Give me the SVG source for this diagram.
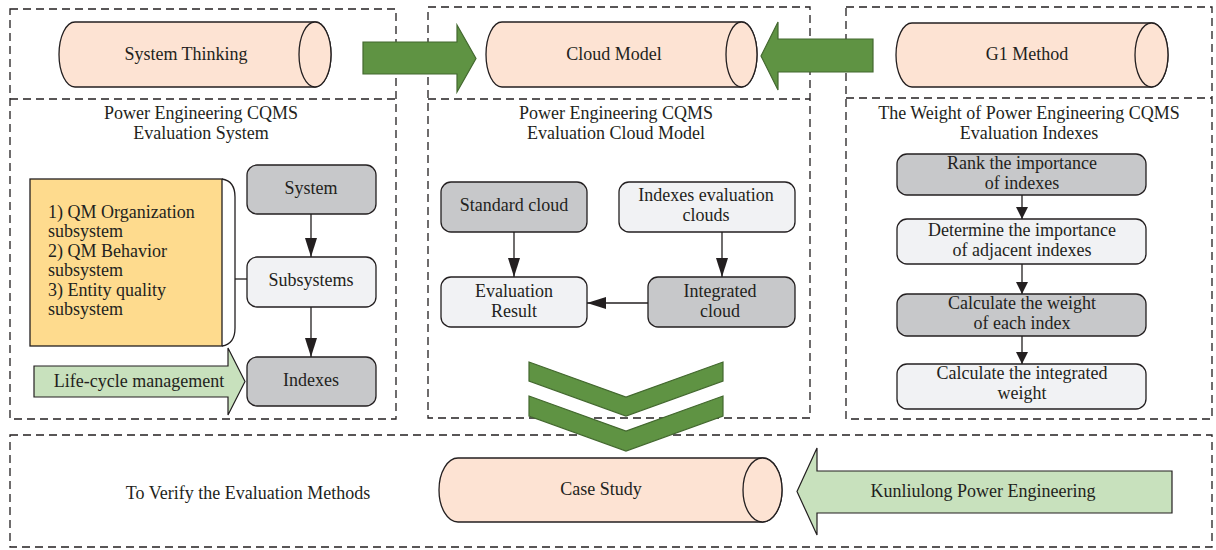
<svg xmlns="http://www.w3.org/2000/svg" width="1216" height="550" viewBox="0 0 1216 550">
<style>
.dash{fill:none;stroke:#231f20;stroke-width:1.3;stroke-dasharray:8 5}
.cyl{fill:#fde3d3;stroke:#231f20;stroke-width:1.3}
.t{font-family:"Liberation Serif",serif;font-size:18px;fill:#231f20;text-anchor:middle}
.tl{font-family:"Liberation Serif",serif;font-size:18px;fill:#231f20}
.gray{fill:#c7c8ca;stroke:#231f20;stroke-width:1.3}
.light{fill:#f1f2f4;stroke:#231f20;stroke-width:1.3}
.garrow{fill:#5f9343;stroke:#43682f;stroke-width:1.2}
.larrow{fill:#c8e1bd;stroke:#231f20;stroke-width:1.2}
.con{fill:none;stroke:#231f20;stroke-width:1.3}
</style>
<defs>
<marker id="big" viewBox="0 0 19 12" refX="19" refY="6" markerWidth="19" markerHeight="12" markerUnits="userSpaceOnUse" orient="auto"><path d="M0,0 L19,6 L0,12 Z" fill="#231f20"/></marker>
<marker id="small" viewBox="0 0 12 12" refX="12" refY="6" markerWidth="12" markerHeight="12" markerUnits="userSpaceOnUse" orient="auto"><path d="M0,0 L12,6 L0,12 Z" fill="#231f20"/></marker>
</defs>
<rect width="1216" height="550" fill="#ffffff"/>

<g id="frames">
<rect class="dash" x="10" y="9" width="386" height="410"/>
<line class="dash" x1="10" y1="99" x2="396" y2="99"/>
<rect class="dash" x="428" y="7" width="382" height="411"/>
<line class="dash" x1="428" y1="99" x2="810" y2="99"/>
<rect class="dash" x="846" y="7" width="366" height="412"/>
<line class="dash" x1="846" y1="98" x2="1212" y2="98"/>
<rect class="dash" x="10" y="435" width="1202" height="112"/>
</g>

<g id="titles">
<text class="t" x="201" y="119">Power Engineering CQMS</text>
<text class="t" x="201" y="139">Evaluation System</text>
<text class="t" x="616" y="119">Power Engineering CQMS</text>
<text class="t" x="616" y="139">Evaluation Cloud Model</text>
<text class="t" x="1029" y="119">The Weight of Power Engineering CQMS</text>
<text class="t" x="1029" y="139">Evaluation Indexes</text>
<text class="t" x="248" y="499">To Verify the Evaluation Methods</text>
</g>

<g id="system-thinking">
<path class="cyl" d="M75,22 L315,22 A16,32.5 0 0 1 315,87 L75,87 A16,32.5 0 0 1 75,22 Z"/>
<ellipse class="cyl" cx="315" cy="54.5" rx="16" ry="32.5"/>
<text class="t" x="186" y="60">System Thinking</text>
</g>
<g id="cloud-model">
<path class="cyl" d="M502,22 L741.5,22 A15.5,32.5 0 0 1 741.5,87 L502,87 A16,32.5 0 0 1 502,22 Z"/>
<ellipse class="cyl" cx="741.5" cy="54.5" rx="15.5" ry="32.5"/>
<text class="t" x="614" y="60">Cloud Model</text>
</g>
<g id="g1-method">
<path class="cyl" d="M912,23 L1151.5,23 A16.5,32 0 0 1 1151.5,87 L912,87 A16,32 0 0 1 912,23 Z"/>
<ellipse class="cyl" cx="1151.5" cy="55" rx="16.5" ry="32"/>
<text class="t" x="1027" y="60">G1 Method</text>
</g>
<g id="case-study">
<path class="cyl" d="M458,458 L762.5,458 A19.5,32 0 0 1 762.5,522 L458,522 A19,32 0 0 1 458,458 Z"/>
<ellipse class="cyl" cx="762.5" cy="490" rx="19.5" ry="32"/>
<text class="t" x="601" y="495">Case Study</text>
</g>

<g id="arrow-system-thinking">
<path class="garrow" d="M363,42 L457,42 L457,25 L476,58.5 L457,92 L457,74 L363,74 Z"/>
</g>
<g id="arrow-g1">
<path class="garrow" d="M873,39 L778,39 L778,22 L761,56 L778,90 L778,72 L873,72 Z"/>
</g>

<g id="subsystem-list">
<rect x="30" y="179" width="192" height="167" fill="#fedb8e" stroke="#231f20" stroke-width="1.3"/>
<path class="con" d="M222,179 Q235,181 235,197 L235,328 Q235,344 222,346"/>
<text class="tl" x="48" y="218">1) QM Organization</text>
<text class="tl" x="48" y="237">subsystem</text>
<text class="tl" x="48" y="257">2) QM Behavior</text>
<text class="tl" x="48" y="276">subsystem</text>
<text class="tl" x="48" y="296">3) Entity quality</text>
<text class="tl" x="48" y="315">subsystem</text>
</g>
<g id="system"><rect class="gray" x="247" y="165" width="129" height="49" rx="10"/><text class="t" x="311" y="194">System</text></g>
<g id="subsystems"><rect class="light" x="247" y="257" width="129" height="50" rx="10"/><text class="t" x="311" y="286">Subsystems</text></g>
<g id="indexes"><rect class="gray" x="247" y="357" width="129" height="49" rx="10"/><text class="t" x="311" y="386">Indexes</text></g>
<g id="life-cycle">
<path class="larrow" d="M34,366 L228,366 L228,348 L245,381.5 L228,415 L228,397 L34,397 Z"/>
<text class="t" x="139" y="387">Life-cycle management</text>
</g>

<g id="standard-cloud"><rect class="gray" x="441" y="182" width="146" height="50" rx="10"/><text class="t" x="514" y="211">Standard cloud</text></g>
<g id="indexes-evaluation-clouds"><rect class="light" x="619" y="182" width="176" height="50" rx="10"/><text class="t" x="706" y="201">Indexes evaluation</text><text class="t" x="706" y="221">clouds</text></g>
<g id="evaluation-result"><rect class="light" x="441" y="277" width="146" height="50" rx="10"/><text class="t" x="514" y="297">Evaluation</text><text class="t" x="514" y="317">Result</text></g>
<g id="integrated-cloud"><rect class="gray" x="648" y="277" width="147" height="50" rx="10"/><text class="t" x="720" y="297">Integrated</text><text class="t" x="720" y="317">cloud</text></g>

<g id="rank"><rect class="gray" x="897" y="154" width="249" height="41" rx="10"/><text class="t" x="1022" y="169">Rank the importance</text><text class="t" x="1022" y="189">of indexes</text></g>
<g id="determine"><rect class="light" x="897" y="219" width="249" height="45" rx="10"/><text class="t" x="1022" y="236">Determine the importance</text><text class="t" x="1022" y="256">of adjacent indexes</text></g>
<g id="calc-weight"><rect class="gray" x="897" y="294" width="249" height="42" rx="10"/><text class="t" x="1022" y="309">Calculate the weight</text><text class="t" x="1022" y="329">of each index</text></g>
<g id="calc-integrated"><rect class="light" x="897" y="364" width="249" height="45" rx="10"/><text class="t" x="1022" y="379">Calculate the integrated</text><text class="t" x="1022" y="399">weight</text></g>

<g id="chevrons">
<path class="garrow" d="M529,362 L626,397 L723,362 L723,381 L626,416 L529,381 Z"/>
<path class="garrow" d="M529,396 L626,431 L723,396 L723,416 L626,451 L529,416 Z"/>
</g>

<g id="kunliulong">
<path class="larrow" d="M1172,471 L817,471 L817,448 L797,491.5 L817,535 L817,513 L1172,513 Z"/>
<text class="t" x="983" y="497">Kunliulong Power Engineering</text>
</g>

<g id="connectors">
<line class="con" x1="235" y1="279" x2="247" y2="279"/>
<line class="con" x1="311" y1="214" x2="311" y2="257" marker-end="url(#big)"/>
<line class="con" x1="311" y1="307" x2="311" y2="357" marker-end="url(#big)"/>
<line class="con" x1="514" y1="232" x2="514" y2="277" marker-end="url(#big)"/>
<line class="con" x1="722" y1="232" x2="722" y2="277" marker-end="url(#big)"/>
<line class="con" x1="648" y1="303" x2="587" y2="303" marker-end="url(#big)"/>
<line class="con" x1="1022" y1="195" x2="1022" y2="219" marker-end="url(#small)"/>
<line class="con" x1="1022" y1="264" x2="1022" y2="294" marker-end="url(#small)"/>
<line class="con" x1="1022" y1="336" x2="1022" y2="364" marker-end="url(#small)"/>
</g>
</svg>
